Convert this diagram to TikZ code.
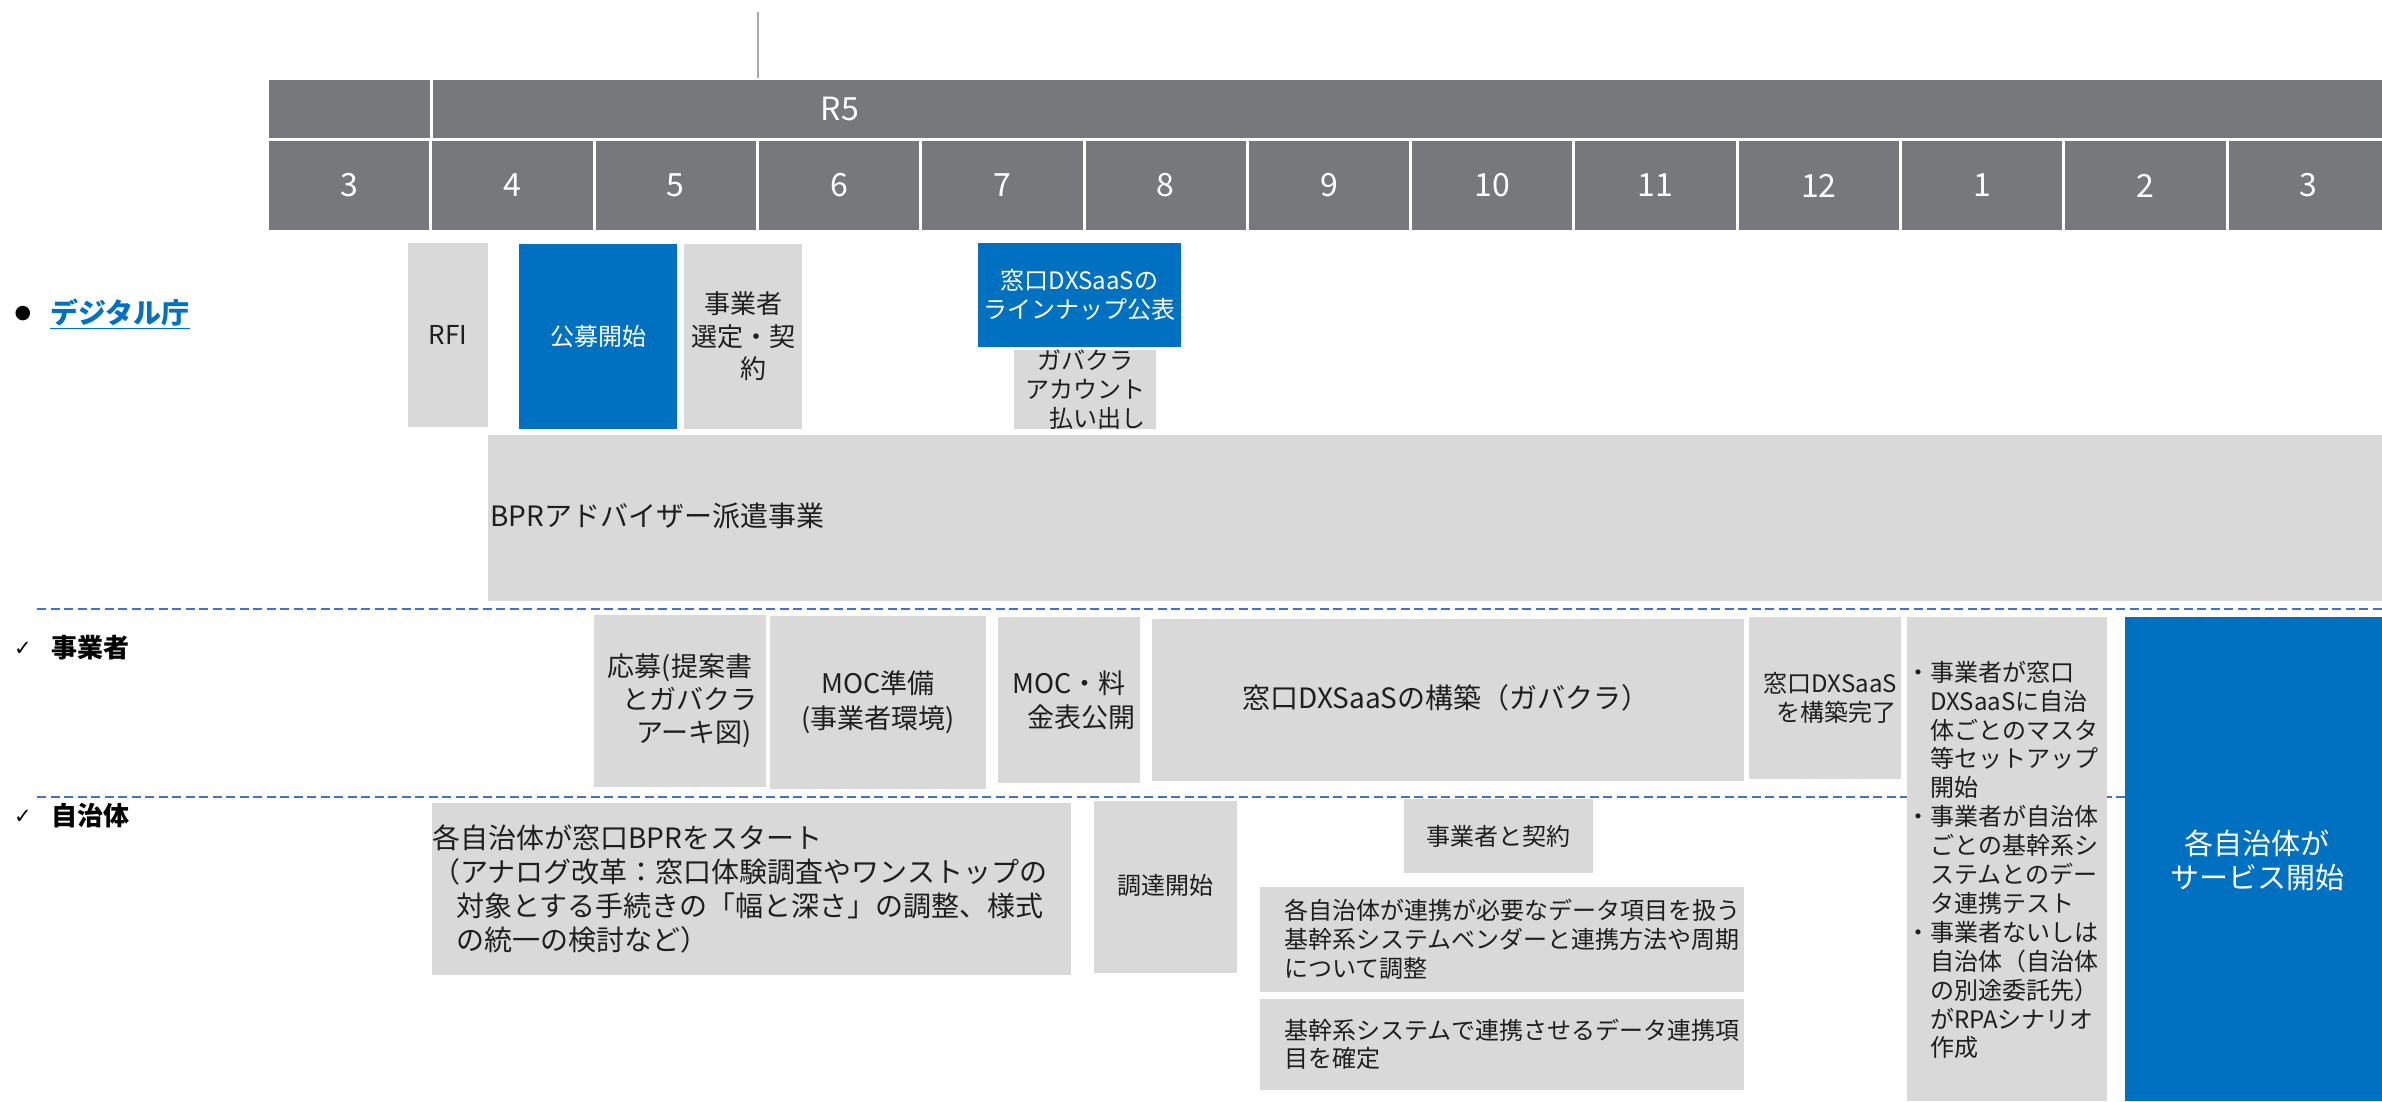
\documentclass[tikz,border=0pt]{standalone}
\usepackage{fontspec}
\setmainfont{Noto Sans CJK JP}
\newfontfamily\symfont{DejaVu Sans}
\usetikzlibrary{fit}
\definecolor{hdr}{RGB}{118,120,123}
\definecolor{lgray}{RGB}{217,217,217}
\definecolor{dblue}{RGB}{0,112,192}
\definecolor{dashblue}{RGB}{68,114,196}
\definecolor{vline}{RGB}{170,170,170}
\definecolor{txt}{RGB}{30,30,30}
\tikzset{
  hbox/.style={fill=hdr, inner sep=0pt, outer sep=0pt},
  htext/.style={text=white, inner sep=0pt, font=\fontsize{32}{38}\selectfont},
  gbox/.style={fill=lgray, inner sep=0pt, outer sep=0pt},
  bbox/.style={fill=dblue, inner sep=0pt, outer sep=0pt},
  gtext/.style={text=txt, inner sep=0pt, align=center},
  wtext/.style={text=white, inner sep=0pt, align=center},
  ltext/.style={text=txt, inner sep=0pt, align=left, anchor=west},
  seper/.style={draw=dashblue, dash pattern=on 9pt off 4.5pt, line width=2.4pt},
}
\begin{document}
\begin{tikzpicture}[x=1pt, y=-1pt]
\useasboundingbox (0,0) rectangle (2382,1101);

% vertical marker line
\coordinate (va) at (758,12);
\coordinate (vb) at (758,78);
\draw[vline, line width=2pt] (va) -- (vb);

% header
\node[hbox, fit={(269,80) (430,138)}] (h0) {};
\node[hbox, fit={(433,80) (2392,138)}] (hr5) {};
\node[htext] (r5) at (840,109) {R5};
\foreach \m [count=\i from 0] in {3,4,5,6,7,8,9,10,11,12,1,2,3} {
  \pgfmathsetmacro\xl{269+163.3*\i}
  \pgfmathsetmacro\xr{\xl+160.3}
  \node[hbox, fit={(\xl,141) (\xr,230)}] (m\i) {};
  \node[htext] (mt\i) at (m\i.center) {\m};
}

% dashed separators
\coordinate (d1a) at (37,609);
\coordinate (d1b) at (2382,609);
\coordinate (d2a) at (37,797);
\coordinate (d2b) at (2382,797);
\draw[seper] (d1a) -- (d1b);
\draw[seper] (d2a) -- (d2b);

% section labels
\node[inner sep=0pt, font=\symfont\fontsize{19}{22}\selectfont] (bul) at (23,314) {●};
\node[inner sep=0pt, anchor=west, text=dblue, font=\bfseries\fontsize{28}{34}\selectfont] (lab1) at (50,314) {\underline{デジタル庁}};
\node[inner sep=0pt, font=\symfont\fontsize{21}{24}\selectfont] (chk1) at (23,649) {✓};
\node[inner sep=0pt, anchor=west, text=black, font=\bfseries\fontsize{26}{31}\selectfont] (lab2) at (51,648) {事業者};
\node[inner sep=0pt, font=\symfont\fontsize{21}{24}\selectfont] (chk2) at (23,817) {✓};
\node[inner sep=0pt, anchor=west, text=black, font=\bfseries\fontsize{26}{31}\selectfont] (lab3) at (51,816) {自治体};

% デジタル庁 row
\node[gbox, fit={(408,243) (488,427)}] (rfi) {};
\node[gtext, font=\fontsize{26}{31}\selectfont] (rfit) at (rfi.center) {RFI};
\node[bbox, fit={(519,244) (677,429)}] (kobo) {};
\node[wtext, font=\fontsize{24}{29}\selectfont] (kobot) at (kobo.center) {公募開始};
\node[gbox, fit={(684,244) (802,429)}] (sentei) {};
\node[gtext, font=\fontsize{26}{32.5}\selectfont] (senteit) at (sentei.center) {事業者\\選定・契\\\hspace*{0.8em}約};
\node[bbox, fit={(978,243) (1181,347)}] (lineup) {};
\node[wtext, font=\fontsize{24}{29}\selectfont] (lineupt) at (lineup.center) {窓口DXSaaSの\\ラインナップ公表};
\node[gbox, fit={(1014,350) (1156,429)}] (gov) {};
\node[gtext, font=\fontsize{24}{29}\selectfont] (govt) at (gov.center) {ガバクラ\\アカウント\\\hspace*{1em}払い出し};
\node[gbox, fit={(488,435) (2382,601)}] (bpr) {};
\node[ltext, font=\fontsize{28}{33}\selectfont] (bprt) at (490,516) {BPRアドバイザー派遣事業};

% 事業者 row
\node[gbox, fit={(594,615) (766,787)}] (oubo) {};
\node[gtext, font=\fontsize{27}{33}\selectfont] (oubot) at (oubo.center) {応募(提案書\\\hspace*{20pt}とガバクラ\\\hspace*{28pt}アーキ図)};
\node[gbox, fit={(770,616) (986,789)}] (moc) {};
\node[gtext, font=\fontsize{27}{35}\selectfont] (moct) at (moc.center) {MOC準備\\(事業者環境)};
\node[gbox, fit={(998,617) (1140,783)}] (ryo) {};
\node[gtext, font=\fontsize{27}{34}\selectfont] (ryot) at (ryo.center) {MOC・料\\\hspace*{24pt}金表公開};
\node[gbox, fit={(1152,619) (1744,781)}] (kochiku) {};
\node[gtext, font=\fontsize{28}{34}\selectfont] (kochikut) at (1446,698) {窓口DXSaaSの構築（ガバクラ）};
\node[gbox, fit={(1749,617) (1901,779)}] (kanryo) {};
\node[gtext, align=right, anchor=east, font=\fontsize{24}{29}\selectfont] (kanryot) at (1897,698) {窓口DXSaaS\\を構築完了};
\node[gbox, fit={(1907,617) (2107,1101)}] (setup) {};
\node[ltext, font=\fontsize{24}{28.9}\selectfont] (setupt) at (1906,860) {・事業者が窓口\\
\hspace*{1em}DXSaaSに自治\\
\hspace*{1em}体ごとのマスタ\\
\hspace*{1em}等セットアップ\\
\hspace*{1em}開始\\
・事業者が自治体\\
\hspace*{1em}ごとの基幹系シ\\
\hspace*{1em}ステムとのデー\\
\hspace*{1em}タ連携テスト\\
・事業者ないしは\\
\hspace*{1em}自治体（自治体\\
\hspace*{1em}の別途委託先）\\
\hspace*{1em}がRPAシナリオ\\
\hspace*{1em}作成};
\node[bbox, fit={(2125,617) (2392,1101)}] (start) {};
\node[wtext, font=\fontsize{29}{34}\selectfont] (startt) at (2257,860) {各自治体が\\サービス開始};

% 自治体 row
\node[gbox, fit={(432,803) (1071,975)}] (bprs) {};
\node[ltext, font=\fontsize{28}{34}\selectfont] (bprst) at (432,889) {各自治体が窓口BPRをスタート\\
（アナログ改革：窓口体験調査やワンストップの\\
\hspace*{24pt}対象とする手続きの「幅と深さ」の調整、様式\\
\hspace*{24pt}の統一の検討など）};
\node[gbox, fit={(1094,801) (1237,973)}] (chotatsu) {};
\node[gtext, font=\fontsize{24}{29}\selectfont] (chotatsut) at (1165.5,885) {調達開始};
\node[gbox, fit={(1404,799) (1593,873)}] (keiyaku) {};
\node[gtext, font=\fontsize{24}{29}\selectfont] (keiyakut) at (keiyaku.center) {事業者と契約};
\node[gbox, fit={(1260,887) (1744,992)}] (renkei) {};
\node[ltext, font=\fontsize{24}{29}\selectfont] (renkeit) at (1284,939) {各自治体が連携が必要なデータ項目を扱う\\基幹系システムベンダーと連携方法や周期\\について調整};
\node[gbox, fit={(1260,999) (1744,1090)}] (kakutei) {};
\node[ltext, font=\fontsize{24}{28}\selectfont] (kakuteit) at (1284,1044) {基幹系システムで連携させるデータ連携項\\目を確定};
\end{tikzpicture}
\end{document}
